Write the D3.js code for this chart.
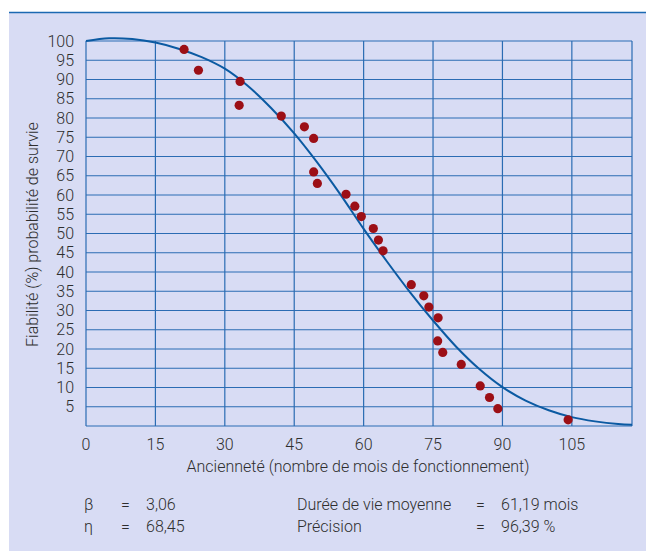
<!doctype html>
<html>
<head>
    <meta charset="UTF-8">
    <title>Fiabilité</title>
    <script src="https://cdn.jsdelivr.net/npm/d3@7"></script>
    <style>
        body { margin: 0; background: #fff; }
        .lbl { font-family: Roboto, "Liberation Sans", Arial, sans-serif; font-weight: 300; font-size: 16px; fill: #2e2e2e; }
    </style>
</head>
<body>
<script>
    // observations (mois, fiabilité %)
    var obsMonths = [21.2, 24.3, 33.3, 33.1, 42.2, 47.2, 49.2, 49.2, 50.0, 56.2, 58.1, 59.5, 62.1, 63.2, 64.2,
                     70.3, 73.0, 74.1, 76.1, 76.0, 77.1, 81.1, 85.2, 87.2, 89.0, 104.2];
    var obsRel    = [97.8, 92.4, 89.5, 83.3, 80.5, 77.7, 74.7, 66.0, 63.0, 60.2, 57.1, 54.4, 51.3, 48.3, 45.5,
                     36.7, 33.8, 30.9, 28.1, 22.1, 19.1, 16.0, 10.4, 7.4, 4.5, 1.6];

    // courbe ajustée
    var curveMonths = [0, 5, 10, 15, 20, 25, 30, 35, 40, 45, 50, 55, 60, 65, 70, 75, 80, 85, 90, 95, 100, 105, 110, 115, 118];
    var curveRel    = [100, 100.7, 100.5, 99.6, 98, 95.8, 92.8, 88.3, 82.6, 76, 68.4, 60.1, 51.2, 42.8, 34.8, 27.4,
                       20.6, 14.8, 10.1, 6.6, 4.1, 2.3, 1.2, 0.5, 0.3];

    var xTicks = [0, 15, 30, 45, 60, 75, 90, 105];
    var yTicks = [5, 10, 15, 20, 25, 30, 35, 40, 45, 50, 55, 60, 65, 70, 75, 80, 85, 90, 95, 100];

    var xTitle = "Ancienneté (nombre de mois de fonctionnement)";
    var yTitle = "Fiabilité (%) probabilité de survie";
    var statsLeft  = [["β", "3,06"], ["η", "68,45"]];
    var statsRight = [["Durée de vie moyenne", "61,19 mois"], ["Précision", "96,39 %"]];

    var W = 646, H = 551;
    var margin = { left: 86, right: 632, top: 41, bottom: 426 };
    var gridCol = "#2b6cb3";

    var svg = d3.select("body").append("svg")
        .attr("width", W)
        .attr("height", H);

    // background panel
    svg.append("rect")
        .attr("x", 9).attr("y", 13)
        .attr("width", W - 9).attr("height", H - 13)
        .style("fill", "#d8dcf4");
    svg.append("line")
        .attr("x1", 9).attr("x2", W)
        .attr("y1", 12.5).attr("y2", 12.5)
        .style("stroke", "#1b69b2")
        .style("stroke-width", 1.6);

    var x = d3.scaleLinear().domain([0, 118]).range([margin.left, margin.right]);
    var y = d3.scaleLinear().domain([0, 100]).range([margin.bottom, margin.top]);

    var g = svg.append("g");

    // horizontal grid
    g.selectAll(".hgrid")
        .data([0].concat(yTicks))
        .enter()
        .append("line")
        .attr("class", "hgrid")
        .attr("x1", margin.left).attr("x2", margin.right)
        .attr("y1", function (d) { return y(d); })
        .attr("y2", function (d) { return y(d); })
        .style("stroke", gridCol)
        .style("stroke-width", 1.2);

    // vertical grid
    g.selectAll(".vgrid")
        .data(xTicks.concat([118]))
        .enter()
        .append("line")
        .attr("class", "vgrid")
        .attr("x1", function (d) { return x(d); })
        .attr("x2", function (d) { return x(d); })
        .attr("y1", margin.top).attr("y2", margin.bottom)
        .style("stroke", gridCol)
        .style("stroke-width", 1.2);

    // tick labels
    svg.selectAll(".ylab")
        .data(yTicks)
        .enter()
        .append("text")
        .attr("class", "lbl")
        .attr("x", 74)
        .attr("y", function (d) { return y(d) + 5.5; })
        .style("text-anchor", "end")
        .text(function (d) { return d; });

    svg.selectAll(".xlab")
        .data(xTicks)
        .enter()
        .append("text")
        .attr("class", "lbl")
        .attr("x", function (d) { return x(d); })
        .attr("y", 450)
        .style("text-anchor", "middle")
        .text(function (d) { return d; });

    svg.append("text")
        .attr("class", "lbl")
        .attr("x", 358).attr("y", 472)
        .style("text-anchor", "middle")
        .text(xTitle);

    svg.append("text")
        .attr("class", "lbl")
        .attr("transform", "translate(38," + ((margin.top + margin.bottom) / 2 + 1) + ") rotate(-90)")
        .style("text-anchor", "middle")
        .text(yTitle);

    // fitted curve
    var line = d3.line()
        .x(function (d) { return x(d[0]); })
        .y(function (d) { return y(d[1]); })
        .curve(d3.curveCatmullRom);

    svg.append("path")
        .datum(curveMonths.map(function (m, i) { return [m, curveRel[i]]; }))
        .attr("d", line)
        .style("fill", "none")
        .style("stroke", "#0b5aa2")
        .style("stroke-width", 2);

    // points
    svg.selectAll(".pt")
        .data(obsMonths.map(function (m, i) { return [m, obsRel[i]]; }))
        .enter()
        .append("circle")
        .attr("class", "pt")
        .attr("cx", function (d) { return x(d[0]); })
        .attr("cy", function (d) { return y(d[1]); })
        .attr("r", 4.6)
        .style("fill", "#9c0f16");

    // stats block
    var rowY = [510, 532];
    statsLeft.forEach(function (s, i) {
        svg.append("text").attr("class", "lbl").attr("x", 84).attr("y", rowY[i]).text(s[0]);
        svg.append("text").attr("class", "lbl").attr("x", 121).attr("y", rowY[i]).text("=");
        svg.append("text").attr("class", "lbl").attr("x", 146).attr("y", rowY[i]).text(s[1]);
    });
    statsRight.forEach(function (s, i) {
        svg.append("text").attr("class", "lbl").attr("x", 297).attr("y", rowY[i]).text(s[0]);
        svg.append("text").attr("class", "lbl").attr("x", 476).attr("y", rowY[i]).text("=");
        svg.append("text").attr("class", "lbl").attr("x", 501).attr("y", rowY[i]).text(s[1]);
    });
</script>
</body>
</html>
